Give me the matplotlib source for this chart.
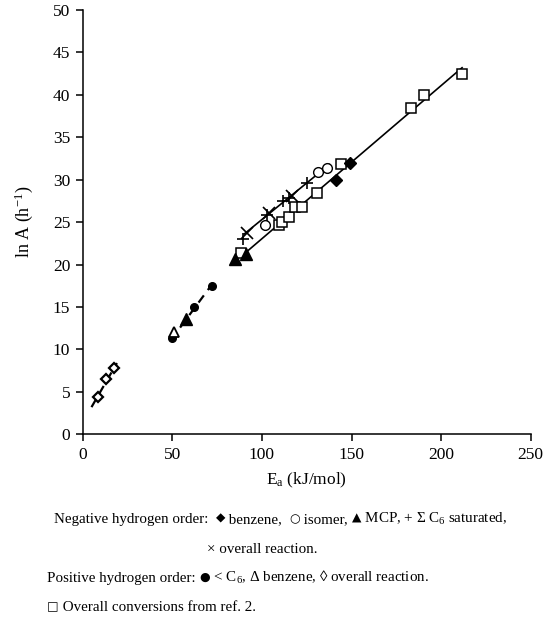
import matplotlib
matplotlib.use("Agg")
import matplotlib.pyplot as plt

plt.rcParams['font.family'] = ['Liberation Serif', 'DejaVu Serif', 'DejaVu Sans']
plt.rcParams['mathtext.fontset'] = 'custom'
plt.rcParams['mathtext.rm'] = 'Liberation Serif'
plt.rcParams['mathtext.it'] = 'Liberation Serif:italic'

# negative hydrogen order
benzene_x = [141.6, 149.0]
benzene_y = [30.0, 32.0]
isomer_x = [102.0, 131.5, 136.5]
isomer_y = [24.7, 30.9, 31.4]
mcp_x = [84.8, 91.0, 57.4]
mcp_y = [20.7, 21.2, 13.6]
sat_x = [89.5, 102.7, 112.0, 115.0, 125.4]
sat_y = [23.0, 25.8, 27.5, 27.9, 29.6]
overall_neg_x = [91.8, 103.7, 117.0]
overall_neg_y = [23.7, 26.1, 28.1]

# positive hydrogen order
lt_c6_x = [49.8, 62.3, 72.0]
lt_c6_y = [11.3, 15.0, 17.5]
benzene_pos_x = [51.0]
benzene_pos_y = [12.0]
overall_pos_x = [8.4, 13.2, 17.3]
overall_pos_y = [4.4, 6.5, 7.8]

# overall conversions from ref. 2
ref2_x = [88.1, 109.5, 111.1, 115.0, 118.2, 122.6, 130.9, 144.0, 183.1, 190.7, 211.7]
ref2_y = [21.4, 24.7, 25.0, 25.6, 26.8, 26.8, 28.4, 31.9, 38.4, 40.0, 42.5]

# fitted lines (end points)
fit_upper_x = [90.1, 137.7]
fit_upper_y = [23.6, 31.8]
fit_lower_x = [88.1, 211.7]
fit_lower_y = [20.9, 43.2]
fit_pos1_x = [4.9, 19.1]
fit_pos1_y = [3.2, 8.4]
fit_pos2_x = [49.2, 72.6]
fit_pos2_y = [11.1, 17.8]

SERIF = ['Liberation Serif', 'DejaVu Serif']
SYM = ['DejaVu Sans']

fig = plt.figure(figsize=(5.46, 6.39), dpi=100)
ax = fig.add_axes([82.7 / 546, 1 - 434.3 / 639, 448 / 546, 424.3 / 639])

ax.plot(fit_upper_x, fit_upper_y, 'k-', lw=1.2)
ax.plot(fit_lower_x, fit_lower_y, 'k-', lw=1.2)
ax.plot(fit_pos1_x, fit_pos1_y, 'k--', lw=1.6, dashes=(4, 3))
ax.plot(fit_pos2_x, fit_pos2_y, 'k--', lw=1.6, dashes=(4, 3))

ms = 7.5
ax.plot(ref2_x, ref2_y, 's', ms=ms, mfc='white', mec='black', mew=1.1, ls='none')
ax.plot(benzene_x, benzene_y, 'D', ms=6, mfc='black', mec='black', ls='none')
ax.plot(isomer_x, isomer_y, 'o', ms=7, mfc='white', mec='black', mew=1.0, ls='none')
ax.plot(mcp_x, mcp_y, '^', ms=8, mfc='black', mec='black', ls='none')
ax.plot(sat_x, sat_y, '+', ms=9, mec='black', mew=1.2, ls='none')
ax.plot(overall_neg_x, overall_neg_y, 'x', ms=8, mec='black', mew=1.2, ls='none')
ax.plot(lt_c6_x, lt_c6_y, 'o', ms=5.5, mfc='black', mec='black', ls='none')
ax.plot(benzene_pos_x, benzene_pos_y, '^', ms=7, mfc='white', mec='black', mew=1.3, ls='none')
ax.plot(overall_pos_x, overall_pos_y, 'D', ms=5.5, mfc='white', mec='black', mew=1.6, ls='none')

ax.set_xlim(0, 250)
ax.set_ylim(0, 50)
ax.set_xticks(range(0, 251, 50))
ax.set_yticks(range(0, 51, 5))
ax.spines['top'].set_visible(False)
ax.spines['right'].set_visible(False)
for s in ('left', 'bottom'):
    ax.spines[s].set_linewidth(1.1)
ax.tick_params(direction='out', length=5, width=1.1, labelsize=12.5, pad=4)

ax.set_xlabel(r'E$_\mathrm{a}$ (kJ/mol)', fontsize=12.5, labelpad=6)
ax.set_ylabel(r'ln A (h$^{\mathrm{-1}}$)', fontsize=13, labelpad=13)

cap = 10.8
renderer = fig.canvas.get_renderer()


def caption(x_px, y_px, parts):
    # parts: list of (text, use_symbol_font)
    x = x_px / 546
    y = 1 - y_px / 639
    for txt, sym in parts:
        yy = y + (1.0 / 639 if sym else 0)
        t = fig.text(x, yy, txt, fontsize=cap * 0.82 if sym else cap,
                     va='baseline', ha='left', family=SYM if sym else SERIF)
        bb = t.get_window_extent(renderer)
        x += bb.width / 546


caption(54, 523, [('Negative hydrogen order:  ', False), ('\u25c6', True),
                  (' benzene,  ', False), ('\u25cb', True), (' isomer, ', False),
                  ('\u25b2', True), (' MCP, + \u03a3 C$_6$ saturated,', False)])
caption(207, 553, [('\u00d7 overall reaction.', False)])
caption(47, 582, [('Positive hydrogen order: ', False), ('\u25cf', True),
                  (' < C$_6$, \u0394 benzene, \u25ca overall reaction.', False)])
caption(47, 611, [('\u25a1', True), (' Overall conversions from ref. 2.', False)])

fig.savefig('out.png', dpi=100)
